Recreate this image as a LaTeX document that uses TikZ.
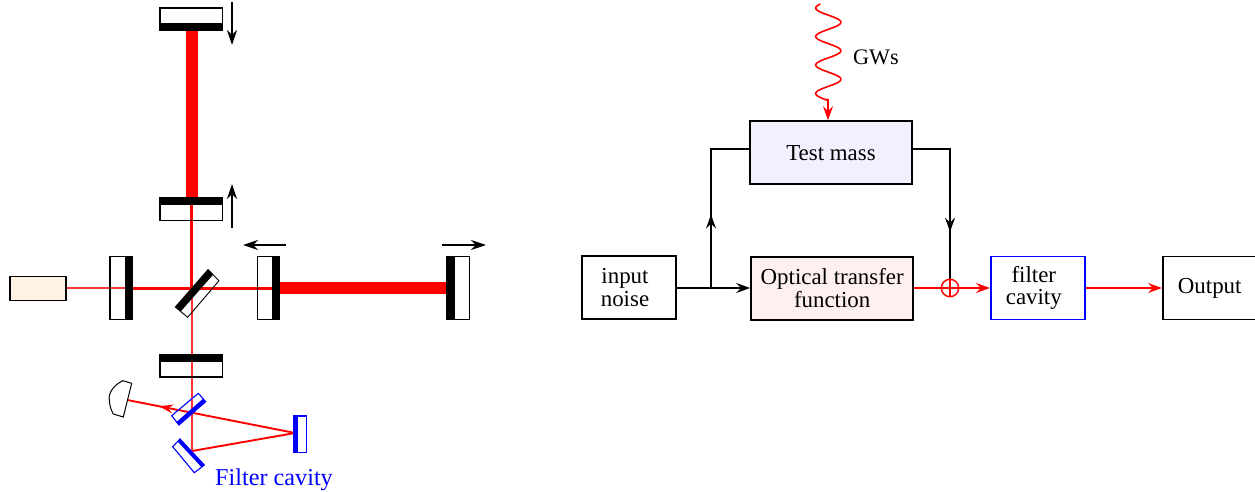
\documentclass[tikz,border=0pt]{standalone}
\usepackage{fontspec}
\setmainfont{Liberation Serif}
\usetikzlibrary{arrows.meta,decorations.markings}
\tikzset{
  motion/.style={black,line width=1.6pt,-{Stealth[length=15pt,width=10pt,inset=5pt]}},
  beamthick/.style={red,line width=12pt},
  beammid/.style={red,line width=3pt},
  beamthin/.style={red!80!white,line width=2.2pt},
  ray/.style={red,line width=1.9pt},
  mbody/.style={draw=black,fill=white,line width=1.2pt},
  mcoat/.style={fill=black},
  fbody/.style={draw=blue,fill=white,line width=1.1pt},
  fcoat/.style={fill=blue},
  block/.style={draw=black,line width=1.6pt,minimum width=94pt,minimum height=63pt,align=center,inner sep=0pt,font=\fontsize{22.9}{23}\selectfont},
  heavy/.style={block,line width=2.2pt,minimum width=162pt},
  sig/.style={black,line width=1.9pt},
  sigarrow/.style={-{Stealth[length=14pt,width=10pt,inset=5pt]}},
}
\begin{document}
\begin{tikzpicture}[x=1pt,y=-1pt]
\useasboundingbox (0,0) rectangle (1255,492);
\clip (0,0) rectangle (1255,492);
% --- interferometer beams
\draw[beamthick] (191.5,30) -- (191.5,198);
\draw[beamthick] (279,288) -- (448,288);
\draw[beammid] (191.5,205) -- (191.5,288);
\draw[beammid] (125,288) -- (272,288);
\draw[beamthin] (66,288) -- (125,288);
\draw[beamthin] (192,288) -- (192,451);
% --- mirrors
\draw[mbody] (160,8) rectangle (222.5,30);
\fill[mcoat] (160,23.3) rectangle (222.5,30);
\draw[mbody,fill=none] (160,198) rectangle (222.5,220.5);
\fill[mcoat] (160,198) rectangle (222.5,205);
\draw[mbody,fill=none] (110,256.5) rectangle (132,319.5);
\fill[mcoat] (125,256.5) rectangle (132,319.5);
\draw[mbody,fill=none] (257.5,256.5) rectangle (279,319.5);
\fill[mcoat] (272,256.5) rectangle (279,319.5);
\draw[mbody] (447,256.5) rectangle (469.5,319.5);
\fill[mcoat] (447.5,256.5) rectangle (454.5,319.5);
\draw[mbody,fill=none] (160,354.3) rectangle (222.5,377);
\fill[mcoat] (160,354.3) rectangle (222.5,361.7);
% beam splitter
\draw[black,line width=.9pt] (207.7,269.3) -- (219,280.7) -- (187.7,317.3) -- (175,306.7);
\fill[mcoat] (207.7,269.3) -- (213.2,274.6) -- (180.6,311.6) -- (175,306.7) -- cycle;
% laser
\draw[black,line width=1.6pt,fill=orange!10!white] (10,276.5) rectangle (66,300.5);
% motion arrows
\draw[motion] (232,2) -- (232,45);
\draw[motion] (232,228) -- (232,184);
\draw[motion] (286,245) -- (243,245);
\draw[motion] (442,245) -- (486,245);
% --- filter cavity
\draw[ray] (192,451) -- (295,433);
\draw[ray,postaction={decorate},decoration={markings,mark=at position 0.81 with {\arrow{Stealth[length=14pt,width=9pt,inset=5pt,red]}}}] (295,433) -- (127.3,400);
\draw[fbody,fill=none] (198.3,393.3) -- (205.7,401.7) -- (179,425) -- (171.7,415.7) -- cycle;
\draw[blue,line width=3.6pt] (204.3,400) -- (177.5,423.5);
\draw[fbody,fill=none] (180,439) -- (204.3,465) -- (194.3,472.7) -- (172.7,446.7) -- cycle;
\draw[blue,line width=3.8pt] (178.8,440) -- (203,466);
\draw[fbody] (293.3,416) rectangle (306.7,452.3);
\fill[fcoat] (293.3,416) rectangle (297.5,452.3);
% detector
\draw[black,line width=1pt,fill=white] (131.7,383.3) -- (122.7,380.7) .. controls (114,385) and (108,393) .. (109.3,400) .. controls (109.5,405) and (111,410) .. (113.3,414) -- (123.3,417) -- cycle;
\node[text=blue,font=\fontsize{24.2}{24}\selectfont,inner sep=0pt] (fclabel) at (274,479.5) {Filter cavity};
% --- block diagram
\node[block] (input) at (629,287.7) {\hspace{-8pt}\raisebox{0pt}{input}\\[-0.3pt]\hspace{-8pt}noise};
\node[heavy,fill=red!6!white] (otf) at (832.2,288.2) {Optical transfer\\[-0.3pt]function};
\node[heavy,fill=blue!6!white] (tm) at (831,152.8) {Test mass};
\node[block,draw=blue] (fc) at (1037.8,287.9) {\hspace{-8pt}filter\\[-0.3pt]\hspace{-8pt}cavity};
\node[block] (out) at (1209.7,288) {Output};
\node[font=\fontsize{22.2}{22}\selectfont,inner sep=0pt] (gwlabel) at (876,57) {GWs};
\coordinate (split) at (711,288);
\coordinate (upleft) at (711,149);
\coordinate (upright) at (950,149);
\coordinate (sum) at (950,288);
\coordinate (gwend) at (828,99);
\draw[sig,sigarrow] (input.east |- split) -- (otf.west |- split);
\draw[sig,postaction={decorate},decoration={markings,mark=at position 0.415 with {\arrow{Stealth[length=14pt,width=10pt,inset=5pt,black]}}}] (split) -- (upleft) -- (tm.west |- upleft);
\draw[sig,postaction={decorate},decoration={markings,mark=at position 0.68 with {\arrow{Stealth[length=14pt,width=10pt,inset=5pt,black]}}}] (tm.east |- upright) -- (upright) -- (sum);
\draw[ray,sigarrow] (otf.east |- sum) -- (fc.west |- sum);
\draw[ray,sigarrow] (fc.east |- sum) -- (out.west |- sum);
\draw[red,line width=1.4pt] (sum) circle (8.7);
\draw[red,line width=1.4pt] (950,279.3) -- (950,296.7);
\draw[red,line width=1.6pt] plot[domain=4:100,samples=120,smooth] ({828.3-12.6*cos(12.632*(\x-8))},\x) -- (gwend);
\draw[red,line width=1.6pt,sigarrow] (gwend) -- (gwend |- tm.north);
\end{tikzpicture}
\end{document}
